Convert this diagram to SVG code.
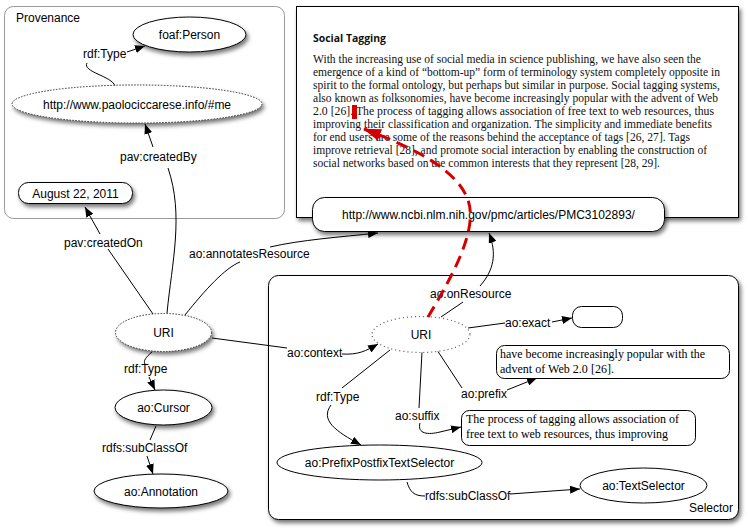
<svg xmlns="http://www.w3.org/2000/svg" width="748" height="532" viewBox="0 0 748 532">
  <defs>
    <filter id="shadow" x="-20%" y="-30%" width="150%" height="180%">
      <feDropShadow dx="2" dy="3" stdDeviation="2" flood-color="#000" flood-opacity="0.55"/>
    </filter>
    <marker id="arrow" viewBox="0 0 10 8" refX="10" refY="4" markerWidth="10" markerHeight="8" markerUnits="userSpaceOnUse" orient="auto">
      <path d="M0,0 L10,4 L0,8 Z" fill="#000"/>
    </marker>
    <marker id="redArrow" viewBox="0 0 18 12" refX="17" refY="6" markerWidth="18" markerHeight="12" markerUnits="userSpaceOnUse" orient="auto">
      <path d="M0,0 L18,6 L0,12 Z" fill="#d40000"/>
    </marker>
    <style>
      .lbl { font-family: "Liberation Sans", Arial, sans-serif; font-size: 12px; fill: #000; }
      .mid { text-anchor: middle; }
      .node { fill: #fff; stroke: #000; stroke-width: 1; }
      .dashed { fill: #fff; stroke: #333; stroke-width: 1; stroke-dasharray: 1.5 1.5; }
      .dotted { fill: #fff; stroke: #555; stroke-width: 1.2; stroke-dasharray: 1 3; }
      .edge { fill: none; stroke: #000; stroke-width: 1; }
      .arr { marker-end: url(#arrow); }
      .paper { font-family: "Liberation Serif", "Times New Roman", serif; font-size: 11.5px; fill: #111; }
      .serif { font-family: "Liberation Serif", "Times New Roman", serif; font-size: 12px; fill: #000; }
    </style>
  </defs>

  <!-- Containers -->
  <g id="provenance">
    <rect x="4.5" y="6.5" width="280" height="212" rx="9" fill="#fff" stroke="#999"/>
    <text class="lbl" x="16" y="22">Provenance</text>
  </g>

  <g id="paper">
    <rect x="296.5" y="6.5" width="442" height="211" fill="#fff" stroke="#000" filter="url(#shadow)"/>
    <text x="313" y="42" font-family="'Open Sans', 'Liberation Sans', sans-serif" font-weight="bold" font-size="11px" fill="#111" textLength="73" lengthAdjust="spacingAndGlyphs">Social Tagging</text>
    <text class="paper" x="313" y="63" textLength="388" lengthAdjust="spacingAndGlyphs">With the increasing use of social media in science publishing, we have also seen the</text>
    <text class="paper" x="313" y="76" textLength="407" lengthAdjust="spacingAndGlyphs">emergence of a kind of “bottom-up” form of terminology system completely opposite in</text>
    <text class="paper" x="313" y="89" textLength="407" lengthAdjust="spacingAndGlyphs">spirit to the formal ontology, but perhaps but similar in purpose. Social tagging systems,</text>
    <text class="paper" x="313" y="102" textLength="405" lengthAdjust="spacingAndGlyphs">also known as folksonomies, have become increasingly popular with the advent of Web</text>
    <text class="paper" x="313" y="115" textLength="401" lengthAdjust="spacingAndGlyphs">2.0 [26]. The process of tagging allows association of free text to web resources, thus</text>
    <text class="paper" x="313" y="128" textLength="399" lengthAdjust="spacingAndGlyphs">improving their classification and organization. The simplicity and immediate benefits</text>
    <text class="paper" x="313" y="141" textLength="377" lengthAdjust="spacingAndGlyphs">for end users are some of the reasons behind the acceptance of tags [26, 27]. Tags</text>
    <text class="paper" x="313" y="154" textLength="394" lengthAdjust="spacingAndGlyphs">improve retrieval [28], and promote social interaction by enabling the construction of</text>
    <text class="paper" x="313" y="167" textLength="347" lengthAdjust="spacingAndGlyphs">social networks based on the common interests that they represent [28, 29].</text>
    <!-- highlight bar at the selection point -->
    <rect x="352" y="105" width="5" height="14" fill="#d40000"/>
  </g>

  <g id="selector">
    <rect x="268.5" y="275.5" width="470" height="244" rx="10" fill="#fff" stroke="#000" filter="url(#shadow)"/>
    <text class="lbl" x="733" y="512" text-anchor="end">Selector</text>
  </g>

  <!-- Connectors -->
  <g id="connectors">
    <!-- rdf:Type (provenance) -->
    <path class="edge" d="M115,86 C112,76 82,72 87,63"/>
    <path class="edge arr" d="M127,52 L145,46"/>
    <!-- pav:createdBy -->
    <path class="edge" d="M167,313 C172,262 184,215 168,168"/>
    <path class="edge arr" d="M153,147 L145,124"/>
    <!-- pav:createdOn -->
    <path class="edge" d="M153,314 L108,249"/>
    <path class="edge arr" d="M100,234 L85,207"/>
    <!-- ao:annotatesResource -->
    <path class="edge" d="M185,315 C205,290 225,268 240,262"/>
    <path class="edge arr" d="M270,247 C300,240 340,237 378,233"/>
    <!-- ao:context -->
    <path class="edge" d="M212,338 L287,348"/>
    <path class="edge arr" d="M342,354 C358,355 366,351 378,344"/>
    <!-- ao:onResource -->
    <path class="edge" d="M441,317 L463,302"/>
    <path class="edge arr" d="M480,286 C494,270 497,254 489,233"/>
    <!-- ao:exact -->
    <path class="edge" d="M468,328 L505,323"/>
    <path class="edge arr" d="M552,322 L572,318"/>
    <!-- ao:prefix -->
    <path class="edge" d="M437,350 L462,388"/>
    <path class="edge arr" d="M507,390 L537,378"/>
    <!-- ao:suffix -->
    <path class="edge" d="M422,352 L419,408"/>
    <path class="edge arr" d="M420,423 C417,434 428,435 440,432 L461,427"/>
    <!-- rdf:Type (selector) -->
    <path class="edge" d="M390,350 L342,388"/>
    <path class="edge arr" d="M331,405 C320,420 335,431 361,445"/>
    <!-- rdfs:subClassOf (selector) -->
    <path class="edge" d="M407,482 C410,492 414,496 425,496"/>
    <path class="edge arr" d="M510,494 L580,489"/>
    <!-- rdf:Type (annotation) -->
    <path class="edge" d="M152,352 C146,357 143,361 145,364"/>
    <path class="edge arr" d="M149,377 L155,390"/>
    <!-- rdfs:subClassOf (annotation) -->
    <path class="edge" d="M156,426 L150,440"/>
    <path class="edge arr" d="M147,456 L153,474"/>
  </g>

  <!-- Edge labels -->
  <g id="edge-labels" class="lbl">
    <text x="83" y="58">rdf:Type</text>
    <text x="120" y="161">pav:createdBy</text>
    <text x="64" y="247">pav:createdOn</text>
    <text x="189" y="258">ao:annotatesResource</text>
    <text x="287" y="357">ao:context</text>
    <text x="430" y="298">ao:onResource</text>
    <text x="505" y="327">ao:exact</text>
    <text x="461" y="398">ao:prefix</text>
    <text x="395" y="420">ao:suffix</text>
    <text x="316" y="401">rdf:Type</text>
    <text x="425" y="500">rdfs:subClassOf</text>
    <text x="124" y="373">rdf:Type</text>
    <text x="102" y="452">rdfs:subClassOf</text>
  </g>

  <!-- Nodes -->
  <g id="foaf-person">
    <ellipse class="node" cx="189.5" cy="34.5" rx="56.5" ry="17.5" filter="url(#shadow)"/>
    <text class="lbl mid" x="189.5" y="39">foaf:Person</text>
  </g>
  <g id="creator">
    <ellipse class="dashed" cx="137" cy="104" rx="125" ry="19" filter="url(#shadow)"/>
    <text class="lbl mid" x="137" y="108.5">http://www.paolociccarese.info/#me</text>
  </g>
  <g id="created-on">
    <rect class="node" x="18.5" y="182.5" width="114" height="21" rx="10" filter="url(#shadow)"/>
    <text class="lbl mid" x="75.5" y="197.5">August 22, 2011</text>
  </g>
  <g id="annotation-uri">
    <ellipse class="dashed" cx="163.5" cy="332.5" rx="48" ry="19" filter="url(#shadow)"/>
    <text class="lbl mid" x="163.5" y="337">URI</text>
  </g>
  <g id="ao-cursor">
    <ellipse class="node" cx="163.5" cy="407.5" rx="48.5" ry="17.5" filter="url(#shadow)"/>
    <text class="lbl mid" x="163.5" y="412">ao:Cursor</text>
  </g>
  <g id="ao-annotation">
    <ellipse class="node" cx="161" cy="491" rx="67" ry="17" filter="url(#shadow)"/>
    <text class="lbl mid" x="161" y="495.5">ao:Annotation</text>
  </g>
  <g id="resource">
    <rect class="node" x="312.5" y="197.5" width="352" height="34" rx="12" filter="url(#shadow)"/>
    <text class="lbl mid" x="488.5" y="218.5">http://www.ncbi.nlm.nih.gov/pmc/articles/PMC3102893/</text>
  </g>
  <g id="selector-uri">
    <ellipse class="dotted" cx="421" cy="334.5" rx="49" ry="18"/>
    <text class="lbl mid" x="421" y="339">URI</text>
  </g>
  <g id="exact">
    <rect class="node" x="572.5" y="306.5" width="50" height="21" rx="9"/>
  </g>
  <g id="prefix">
    <rect class="node" x="496.5" y="345.5" width="233" height="33" rx="8"/>
    <text class="serif" x="500" y="358" textLength="205" lengthAdjust="spacingAndGlyphs">have become increasingly popular with the</text>
    <text class="serif" x="500" y="373" textLength="114" lengthAdjust="spacingAndGlyphs">advent of Web 2.0 [26].</text>
  </g>
  <g id="suffix">
    <rect class="node" x="461.5" y="410.5" width="234" height="35" rx="8"/>
    <text class="serif" x="466" y="423" textLength="213" lengthAdjust="spacingAndGlyphs">The process of tagging allows association of</text>
    <text class="serif" x="466" y="438" textLength="202" lengthAdjust="spacingAndGlyphs">free text to web resources, thus improving</text>
  </g>
  <g id="prefix-postfix-selector">
    <ellipse class="node" cx="379.5" cy="462.5" rx="102.5" ry="17.5"/>
    <text class="lbl mid" x="379.5" y="467">ao:PrefixPostfixTextSelector</text>
  </g>
  <g id="text-selector">
    <ellipse class="node" cx="643.5" cy="485.5" rx="63.5" ry="17.5"/>
    <text class="lbl mid" x="643.5" y="490">ao:TextSelector</text>
  </g>

  <!-- Selection pointer into the document, drawn above the nodes -->
  <g id="pointer">
    <path d="M428,317 C455,272 478,228 468,200 C458,172 420,150 364,129" fill="none" stroke="#d40000" stroke-width="3" stroke-dasharray="12 7" marker-end="url(#redArrow)"/>
  </g>
</svg>
